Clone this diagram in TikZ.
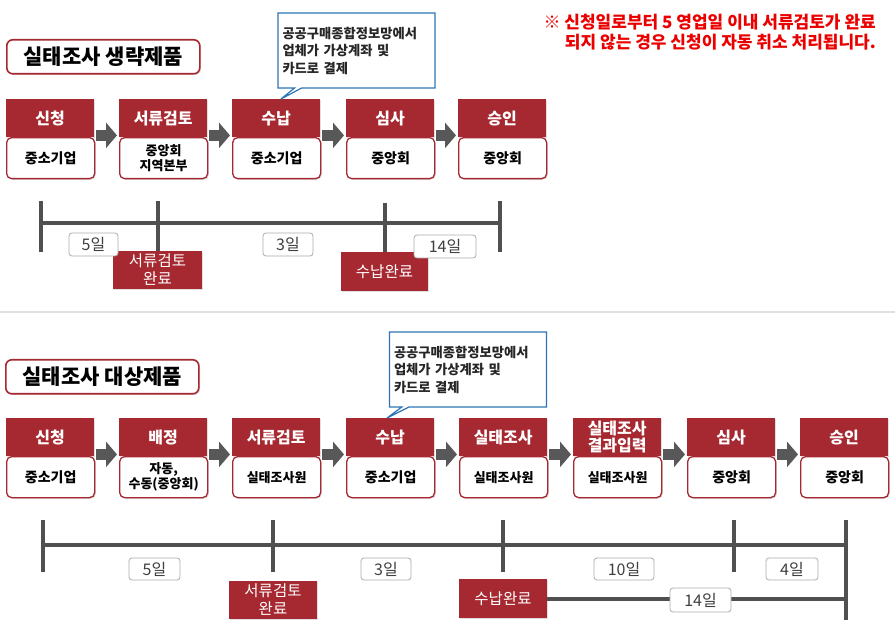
\documentclass[tikz,border=0pt]{standalone}
\usepackage{fontspec}
\setmainfont{Noto Sans CJK KR}
\usetikzlibrary{shapes.callouts,shadows,arrows.meta,calc}
\definecolor{dred}{RGB}{166,40,48}
\definecolor{bblue}{RGB}{46,117,182}
\definecolor{lgray}{RGB}{80,80,80}
\definecolor{agray}{RGB}{88,88,88}
\definecolor{nred}{RGB}{235,0,0}
\tikzset{
  shd/.style={drop shadow={opacity=0.25,shadow xshift=1.2pt,shadow yshift=-1.2pt}},
  hdr/.style={fill=dred, text=white, font=\fontsize{16}{17}\selectfont\bfseries,
    minimum width=88pt, minimum height=38pt, inner sep=1pt, align=center, shd},
  low/.style={fill=white, draw=dred, line width=1.3pt, rounded corners=5pt,
    minimum width=88pt, minimum height=41pt, font=\fontsize{14}{16}\selectfont\bfseries,
    align=center, inner sep=1pt, shd},
  sm/.style={font=\fontsize{13}{15}\selectfont\bfseries},
  barrow/.style={draw=agray, line width=11pt, -{Triangle[length=11pt,width=25pt]}},
  callbox/.style={rectangle callout, draw=bblue, line width=1.2pt, fill=white,
    minimum width=157pt, minimum height=75pt, text width=148pt, inner xsep=4.5pt,
    align=left, font=\fontsize{13.3}{17.5}\selectfont\bfseries, text=black!85},
  titlebox/.style={draw=dred, line width=1.6pt, rounded corners=6pt, fill=white,
    minimum width=193pt, minimum height=34pt, font=\fontsize{21}{24}\selectfont\bfseries, shd},
  note/.style={text=nred, font=\fontsize{17}{20}\selectfont\bfseries, align=right, inner sep=0pt},
  tl/.style={draw=lgray, line width=4pt},
  lbl/.style={draw=gray!65, line width=0.8pt, rounded corners=3pt, fill=white,
    text=black!75, font=\fontsize{16}{18}\selectfont, inner sep=0pt, minimum height=23pt},
  rbox/.style={fill=dred, text=white, font=\fontsize{15.5}{18}\selectfont, align=center,
    inner sep=0pt, shd}
}
\newcommand{\mkstep}[6][]{%
  \node[hdr,anchor=north west] (h#2) at (#3,#4) {#5};
  \node[low,anchor=north west,#1] (l#2) at (#3,#4+38) {#6};
}
\begin{document}
\begin{tikzpicture}[x=1pt,y=-1pt]
\fill[white] (0,0) rectangle (895,636);
\useasboundingbox (0,0) rectangle (895,636);

% ---------- top section ----------
\node[titlebox,anchor=north west] (title1) at (6,39) {실태조사 생략제품};
\node[note,anchor=east] (note1) at (876,32) {※ 신청일로부터 5 영업일 이내 서류검토가 완료\\되지 않는 경우 신청이 자동 취소 처리됩니다.};

\mkstep{t1}{6}{99}{신청}{중소기업}
\mkstep[sm]{t2}{119}{99}{서류검토}{중앙회\\지역본부}
\mkstep{t3}{232}{99}{수납}{중소기업}
\mkstep{t4}{346}{99}{심사}{중앙회}
\mkstep{t5}{458}{99}{승인}{중앙회}
\foreach \a/\b in {t1/t2,t2/t3,t3/t4,t4/t5}
  \draw[barrow] ([xshift=2pt,yshift=2pt]h\a.south east) -- ([xshift=-2pt,yshift=2pt]h\b.south west);

\node[callbox, callout absolute pointer={($(ht3.north west)+(49,0)$)}] (call1) at (356.5,50.5)
  {공공구매종합정보망에서\\업체가 가상계좌 및\\카드로 결제};

% top timeline
\coordinate (ta0) at (41,223);
\coordinate (ta3) at (500,223);
\draw[tl] (ta0) -- (ta3);
\draw[tl] (41,201) -- (41,252);
\draw[tl] (500,201) -- (500,252);
\node[rbox, minimum width=89pt, minimum height=38pt] (tr1) at (157.5,270) {서류검토\\완료};
\node[rbox, minimum width=87pt, minimum height=39pt] (tr2) at (384.5,271.5) {수납완료};
\draw[tl] (tr1.north) -- ++(0,-50);
\draw[tl] (tr2.north) -- ++(0,-49);
\node[lbl, minimum width=49pt] (tl1) at (93.5,244.5) {5일};
\node[lbl, minimum width=50pt] (tl2) at (288,244.5) {3일};
\node[lbl, minimum width=62pt] (tl3) at (445,246.5) {14일};

% separator
\draw[black!12, line width=2pt] (0,312) -- (895,312);

% ---------- bottom section ----------
\node[titlebox,anchor=north west] (title2) at (5,359) {실태조사 대상제품};

\mkstep{b1}{6}{418}{신청}{중소기업}
\mkstep[sm]{b2}{119}{418}{배정}{자동,\\수동(중앙회)}
\mkstep[sm]{b3}{232}{418}{서류검토}{실태조사원}
\mkstep{b4}{346}{418}{수납}{중소기업}
\mkstep[sm]{b5}{459}{418}{실태조사}{실태조사원}
\mkstep[sm]{b6}{573}{418}{실태조사\\결과입력}{실태조사원}
\mkstep{b7}{687}{418}{심사}{중앙회}
\mkstep{b8}{800}{418}{승인}{중앙회}
\foreach \a/\b in {b1/b2,b2/b3,b3/b4,b4/b5,b5/b6,b6/b7,b7/b8}
  \draw[barrow] ([xshift=2pt,yshift=2pt]h\a.south east) -- ([xshift=-2pt,yshift=2pt]h\b.south west);

\node[callbox, callout absolute pointer={($(hb4.north west)+(41,0)$)}] (call2) at (468,369.5)
  {공공구매종합정보망에서\\업체가 가상계좌 및\\카드로 결제};

% bottom timeline
\coordinate (ba0) at (43,545);
\coordinate (ba4) at (846,545);
\draw[tl] (ba0) -- (ba4);
\draw[tl] (43,520) -- (43,572);
\draw[tl] (273,520) -- (273,572);
\draw[tl] (503,520) -- (503,572);
\draw[tl] (734,520) -- (734,572);
\draw[tl] (846,520) -- (846,620);
\node[rbox, minimum width=88pt, minimum height=38pt] (br1) at (273,600) {서류검토\\완료};
\node[rbox, minimum width=88pt, minimum height=39pt] (br2) at (503,598.5) {수납완료};
\draw[tl] (br2.east) -- (br2.east -| ba4);
\node[lbl, minimum width=51pt, minimum height=22pt] (bl1) at (154.5,569) {5일};
\node[lbl, minimum width=50pt, minimum height=22pt] (bl2) at (386,569) {3일};
\node[lbl, minimum width=60pt, minimum height=22pt] (bl3) at (624,569) {10일};
\node[lbl, minimum width=52pt, minimum height=22pt] (bl4) at (792,569) {4일};
\node[lbl, minimum width=61pt, minimum height=24pt] (bl5) at (700.5,600) {14일};
\end{tikzpicture}
\end{document}
